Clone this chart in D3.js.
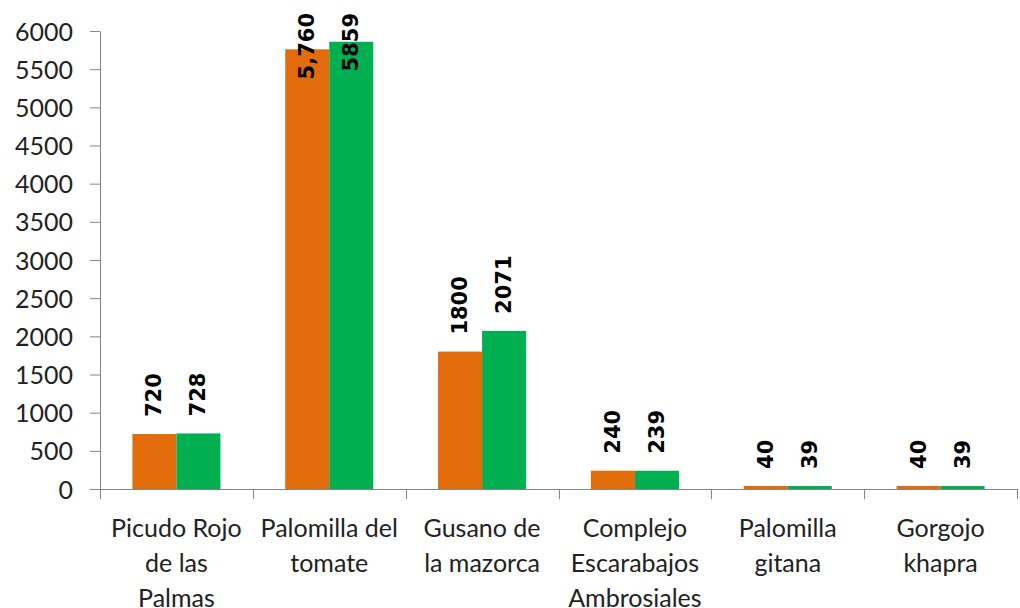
<!DOCTYPE html>
<html>
<head>
<meta charset="utf-8">
<script src="https://cdn.jsdelivr.net/npm/d3@7"></script>
<style>
  body { margin: 0; background: #fff; }
  .axis path, .axis line { stroke: #868686; }
  .axis text { font-family: Lato, "Open Sans", sans-serif; font-size: 25px; fill: #222; }
</style>
</head>
<body>
<svg id="chart" width="1020" height="608"></svg>
<script>
// data
var categories = ["Picudo Rojo de las Palmas", "Palomilla del tomate", "Gusano de la mazorca",
                  "Complejo Escarabajos Ambrosiales", "Palomilla gitana", "Gorgojo khapra"];
var categoryLines = [["Picudo Rojo", "de las", "Palmas"], ["Palomilla del", "tomate"],
                     ["Gusano de", "la mazorca"], ["Complejo", "Escarabajos", "Ambrosiales"],
                     ["Palomilla", "gitana"], ["Gorgojo", "khapra"]];
var seriesA = [720, 5760, 1800, 240, 40, 40];
var seriesB = [728, 5859, 2071, 239, 39, 39];
var labelsA = ["720", "5,760", "1800", "240", "40", "40"];
var labelsB = ["728", "5859", "2071", "239", "39", "39"];
var yTicks = [0, 500, 1000, 1500, 2000, 2500, 3000, 3500, 4000, 4500, 5000, 5500, 6000];

// plot area edges ("top" is taken by window.top, so prefixed)
var svg = d3.select("#chart"),
    pLeft = 100, pRight = 1017, pTop = 31, pBottom = 489;

var x0 = d3.scaleBand().domain(categories).range([pLeft, pRight]).padding(0);
var x1 = d3.scaleBand().domain(["a", "b"]).range([0, x0.bandwidth()])
    .paddingInner(0).paddingOuter(0.736);
var y = d3.scaleLinear().domain([0, 6000]).range([pBottom, pTop]);
var color = {a: "#E36C0A", b: "#00B050"};

var rows = categories.map(function(c, i) {
  return {cat: c, vals: [
    {key: "a", v: seriesA[i], label: labelsA[i]},
    {key: "b", v: seriesB[i], label: labelsB[i]}
  ]};
});

// bars
var grp = svg.append("g").selectAll("g")
  .data(rows)
  .enter().append("g")
    .attr("transform", function(d) { return "translate(" + x0(d.cat) + ",0)"; });

grp.selectAll("rect")
  .data(function(d) { return d.vals; })
  .enter().append("rect")
    .attr("x", function(d) { return x1(d.key); })
    .attr("y", function(d) { return y(d.v); })
    .attr("width", x1.bandwidth())
    .attr("height", function(d) { return y(0) - y(d.v); })
    .attr("fill", function(d) { return color[d.key]; });

// y axis
svg.append("g")
    .attr("class", "axis")
    .attr("transform", "translate(" + pLeft + ",0)")
    .call(d3.axisLeft(y).tickValues(yTicks).tickFormat(d3.format("d")).tickSize(10).tickPadding(17).tickSizeOuter(0))
    .selectAll("text").attr("dy", "0.36em");

// x axis line + ticks at band edges
var xa = svg.append("g").attr("class", "axis");
xa.append("line")
    .attr("x1", pLeft).attr("x2", pRight)
    .attr("y1", pBottom + 0.5).attr("y2", pBottom + 0.5);
var edges = categories.map(function(c) { return x0(c); }).concat([pRight]);
xa.selectAll(".tk")
  .data(edges)
  .enter().append("line")
    .attr("class", "tk")
    .attr("x1", function(d) { return Math.round(d) + 0.5; })
    .attr("x2", function(d) { return Math.round(d) + 0.5; })
    .attr("y1", pBottom).attr("y2", pBottom + 10);

var xl = xa.selectAll(".xl")
  .data(categories)
  .enter().append("text")
    .attr("class", "xl")
    .attr("text-anchor", "middle")
    .attr("transform", function(d) { return "translate(" + (x0(d) + x0.bandwidth() / 2) + ",537)"; });
xl.selectAll("tspan")
  .data(function(d, i) { return categoryLines[i]; })
  .enter().append("tspan")
    .attr("x", 0)
    .attr("y", function(d, i) { return i * 35; })
    .text(function(d) { return d; });

// value labels, rotated, above bars (kept inside the top of the chart)
grp.selectAll(".val")
  .data(function(d) { return d.vals; })
  .enter().append("text")
    .attr("class", "val")
    .attr("font-family", "'DejaVu Sans', sans-serif")
    .attr("font-weight", "bold")
    .attr("font-size", 21)
    .attr("fill", "#000")
    .attr("dominant-baseline", "central")
    .text(function(d) { return d.label; })
    .each(function(d) {
      var len = this.getComputedTextLength();
      var base = y(d.v) - 17;
      if (base - len < 13) base = 13 + len;
      var cx = x1(d.key) + x1.bandwidth() / 2;
      d3.select(this).attr("transform", "translate(" + cx + "," + base + ") rotate(-90)");
    });
</script>
</body>
</html>
